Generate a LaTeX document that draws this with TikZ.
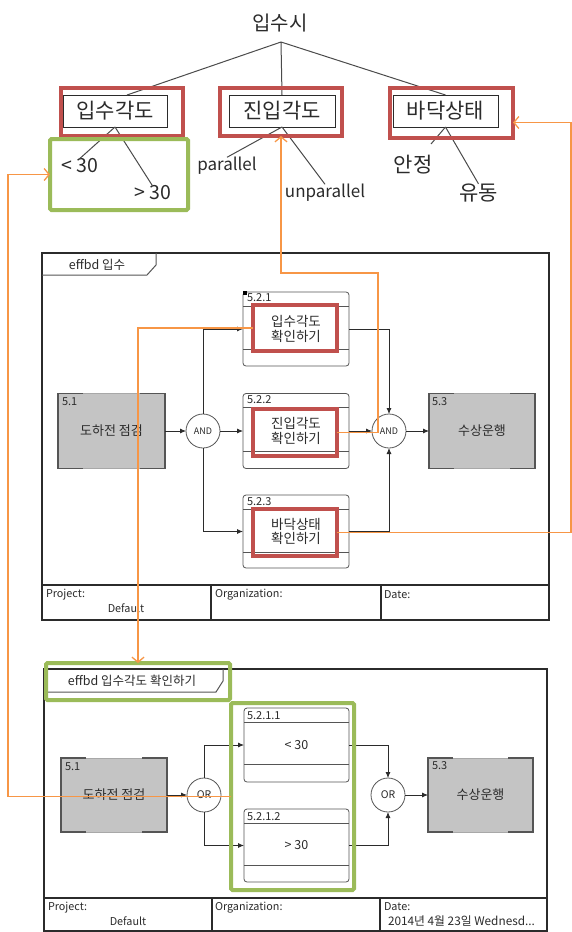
\documentclass[tikz,border=0pt]{standalone}
\usepackage{fontspec}
\setmainfont{Noto Sans CJK KR}
\usetikzlibrary{arrows.meta}
\definecolor{xorange}{HTML}{F79646}
\definecolor{xred}{HTML}{C0504D}
\definecolor{xgreen}{HTML}{9BBB59}
\definecolor{xfill}{HTML}{C4C4C4}
\definecolor{xdark}{HTML}{2B2B2B}
\definecolor{xline}{HTML}{555555}
\definecolor{xlight}{HTML}{A8A8A8}
\newcommand\fbLines[2]{\draw[xline, line width=0.8pt] ([yshift=-14pt]#1.north west) -- ([yshift=-14pt]#1.north east) ([yshift=#2]#1.south west) -- ([yshift=#2]#1.south east);}
\newcommand\gbCorners[1]{\draw[xline, line width=1.1pt] ([xshift=25pt]#1.north west) -- (#1.north west) -- (#1.south west) -- ([xshift=25pt]#1.south west) ([xshift=-25pt]#1.north east) -- (#1.north east) -- (#1.south east) -- ([xshift=-25pt]#1.south east);}
\begin{document}
\begin{tikzpicture}[x=1pt,y=-1pt,
  every node/.style={inner sep=0pt, outer sep=0pt},
  treetxt/.style={font=\fontsize{17}{19}\selectfont, text=xdark},
  treekr/.style={font=\fontsize{21}{23}\selectfont, text=xdark},
  treenum/.style={font=\fontsize{19.5}{21}\selectfont, text=xdark},
  treebox/.style={draw=xdark, line width=1pt, minimum height=32pt, font=\fontsize{21}{23}\selectfont, text=xdark},
  redbox/.style={draw=xred, line width=4pt},
  greenbox/.style={draw=xgreen, line width=4pt, rounded corners=1.5pt},
  tline/.style={draw=xdark!85, line width=1pt},
  frm/.style={draw=xdark, line width=1.8pt},
  tabline/.style={draw=xline, line width=1pt},
  fbox/.style={draw=xline, line width=0.8pt, rounded corners=3pt, fill=white, minimum width=106pt, minimum height=74pt, align=center, font=\fontsize{13.5}{14.5}\selectfont, text=xdark},
  gbox/.style={fill=xfill, draw=xlight, line width=1pt, minimum width=107pt, minimum height=75pt, font=\fontsize{13}{14}\selectfont, text=xdark},
  gate/.style={circle, draw=xline, line width=0.8pt, fill=white, minimum size=34pt, text=xdark},
  flow/.style={draw=xdark, line width=0.8pt, -{Latex[length=6pt,width=5pt]}},
  oline/.style={draw=xorange, line width=1.3pt},
  oarr/.style={oline, -{Straight Barb[length=5pt,width=12pt]}},
  lbl/.style={font=\fontsize{11}{12}\selectfont, text=xdark, anchor=west},
  ftr/.style={font=\fontsize{10.8}{12}\selectfont, text=xdark},
  tabtxt/.style={font=\fontsize{12.5}{13}\selectfont, text=xdark}
]
\useasboundingbox (0,0) rectangle (572,932);
\fill[white] (0,0) rectangle (572,932);

% ---------- tree ----------
\node[treetxt, font=\fontsize{20}{22}\selectfont] (root) at (280,23) {입수시};
\coordinate (j) at (281,42);
\node[treebox, minimum width=104pt] (b1) at (115,111) {입수각도};
\node[treebox, minimum width=106pt] (b2) at (282,111) {진입각도};
\node[treebox, minimum width=105pt] (b3) at (445.5,111) {바닥상태};
\coordinate (b1t) at (127,95);
\draw[tline] (j) -- (b1t) (j) -- (b2.north) (j) -- (b3.north);

\node[treenum] (lt30) at (79.5,166) {< 30};
\node[treenum] (gt30) at (152.5,193) {> 30};
\node[treetxt] (par) at (227,166) {parallel};
\node[treetxt] (unpar) at (325,193) {unparallel};
\node[treekr] (an) at (413,165) {안정};
\node[treekr] (yu) at (478.5,193) {유동};
\coordinate (anT) at (431,144);
\draw[tline] (b1.south) -- (lt30.north) (b1.south) -- (gt30.north)
  (b2.south) -- (par.north) (b2.south) -- (unpar.north)
  (b3.south) -- (anT) (b3.south) -- (yu.north);

\node[redbox, minimum width=122pt, minimum height=48pt] (r1) at (122,112) {};
\node[redbox, minimum width=122pt, minimum height=48pt] (r2) at (281,112) {};
\node[redbox, minimum width=123pt, minimum height=50pt] (r3) at (451.5,112.5) {};
\node[greenbox, minimum width=138pt, minimum height=71pt] (g1) at (119,174.5) {};

% ---------- EFFBD 1 ----------
\draw[frm] (42,253) rectangle (549,620);
\draw[frm] (42,585) -- (549,585) (211,585) -- (211,620) (381,585) -- (381,620);
\draw[tabline] (42,275) -- (147,275) -- (156,265) -- (156,253);
\node[tabtxt] (tab1) at (97,265) {effbd 입수};
\node[ftr, anchor=west] (p1) at (46,595) {Project:};
\node[ftr] (d1) at (126,608) {Default};
\node[ftr, anchor=west] (o1) at (215,595) {Organization:};
\node[ftr, anchor=west] (dt1) at (384,595) {Date:};

\node[gbox] (f51) at (111.5,431) {도하전 점검};
\gbCorners{f51}
\node[lbl] (l51) at (62,402) {5.1};
\node[gate] (and1) at (203,431) {\fontsize{9}{10}\selectfont AND};
\node[fbox] (f521) at (296,329) {입수각도\\확인하기};
\fbLines{f521}{17pt}
\node[lbl] (l521) at (247,298) {5.2.1};
\fill[black] (243,291) rectangle (246.5,294.5);
\node[fbox, minimum height=75pt] (f522) at (296,431) {진입각도\\확인하기};
\fbLines{f522}{17pt}
\node[lbl] (l522) at (247,400) {5.2.2};
\node[fbox, minimum height=73pt] (f523) at (296,531.5) {바닥상태\\확인하기};
\fbLines{f523}{16pt}
\node[lbl] (l523) at (247,502) {5.2.3};
\node[gate] (and2) at (389,431) {\fontsize{9}{10}\selectfont AND};
\node[gbox, minimum width=106pt] (f53) at (482,431) {수상운행};
\gbCorners{f53}
\node[lbl] (l53) at (432,402) {5.3};

\draw[flow] (f51.east) -- (and1.west);
\draw[flow] (and1.east) -- (f522.west);
\draw[flow] (and1.north) |- (f521.west);
\draw[flow] (and1.south) |- (f523.west);
\draw[flow] (f521.east) -| (and2.north);
\draw[flow] (f522.east) -- (and2.west);
\draw[flow] (f523.east) -| (and2.south);
\draw[flow] (and2.east) -- (f53.west);

\node[redbox, minimum width=84pt, minimum height=46pt] (r521) at (295,328) {};
\node[redbox, minimum width=84pt, minimum height=47pt] (r522) at (295,432.5) {};
\node[redbox, minimum width=84pt, minimum height=47pt] (r523) at (295,532.5) {};

% ---------- EFFBD 2 ----------
\draw[frm] (44,669) rectangle (547,931);
\draw[frm] (44,898) -- (547,898) (212,898) -- (212,931) (380,898) -- (380,931);
\draw[tabline] (44,692) -- (216,692) -- (223,681) -- (223,669);
\node[tabtxt] (tab2) at (132,681) {effbd 입수각도 확인하기};
\node[ftr, anchor=west] (p2) at (48,908) {Project:};
\node[ftr] (d2) at (128,921) {Default};
\node[ftr, anchor=west] (o2) at (215,908) {Organization:};
\node[ftr, anchor=west] (dt2) at (384,907) {Date:};
\node[ftr, anchor=west, font=\fontsize{11.8}{12}\selectfont] (dv2) at (388,921) {2014년 4월 23일 Wednesd...};

\node[gbox, minimum width=106pt, minimum height=74pt] (g51) at (114,795) {도하전 점검};
\gbCorners{g51}
\node[lbl] (m51) at (65,767) {5.1};
\node[gate] (or1) at (204,795) {\fontsize{10.5}{11}\selectfont OR};
\node[fbox, minimum width=105pt, font=\fontsize{12.5}{13}\selectfont] (f5211) at (296.5,745) {< 30};
\fbLines{f5211}{18pt}
\node[lbl] (l5211) at (247,716) {5.2.1.1};
\node[fbox, minimum width=105pt, minimum height=73pt, font=\fontsize{12.5}{13}\selectfont] (f5212) at (296.5,845.5) {> 30};
\fbLines{f5212}{17pt}
\node[lbl] (l5212) at (247,817) {5.2.1.2};
\node[gate] (or2) at (388,795) {\fontsize{10.5}{11}\selectfont OR};
\node[gbox, minimum width=105pt, minimum height=74pt] (g53) at (480.5,795) {수상운행};
\gbCorners{g53}
\node[lbl] (m53) at (432,766) {5.3};

\draw[flow] (g51.east) -- (or1.west);
\draw[flow] (or1.north) |- (f5211.west);
\draw[flow] (or1.south) |- (f5212.west);
\draw[flow] (f5211.east) -| (or2.north);
\draw[flow] (f5212.east) -| (or2.south);
\draw[flow] (or2.east) -- (g53.west);

\node[greenbox, minimum width=184pt, minimum height=37pt] (g2) at (138,681.5) {};
\node[greenbox, minimum width=123pt, minimum height=187pt] (g3) at (292.5,796.5) {};

% ---------- orange links ----------
\draw[oarr] (g3.west) -| ([xshift=-42pt]g1.west) -- (g1.west);
\draw[oarr] (r521.west) -| (g2.north);
\coordinate (o4) at (378,273);
\draw[oarr] (r522.east) -| (o4) -| (r2.south);
\draw[oarr] (r523.east) -| ([xshift=58pt,yshift=-10pt]r3.east) -- ([yshift=-10pt]r3.east);
\end{tikzpicture}
\end{document}
